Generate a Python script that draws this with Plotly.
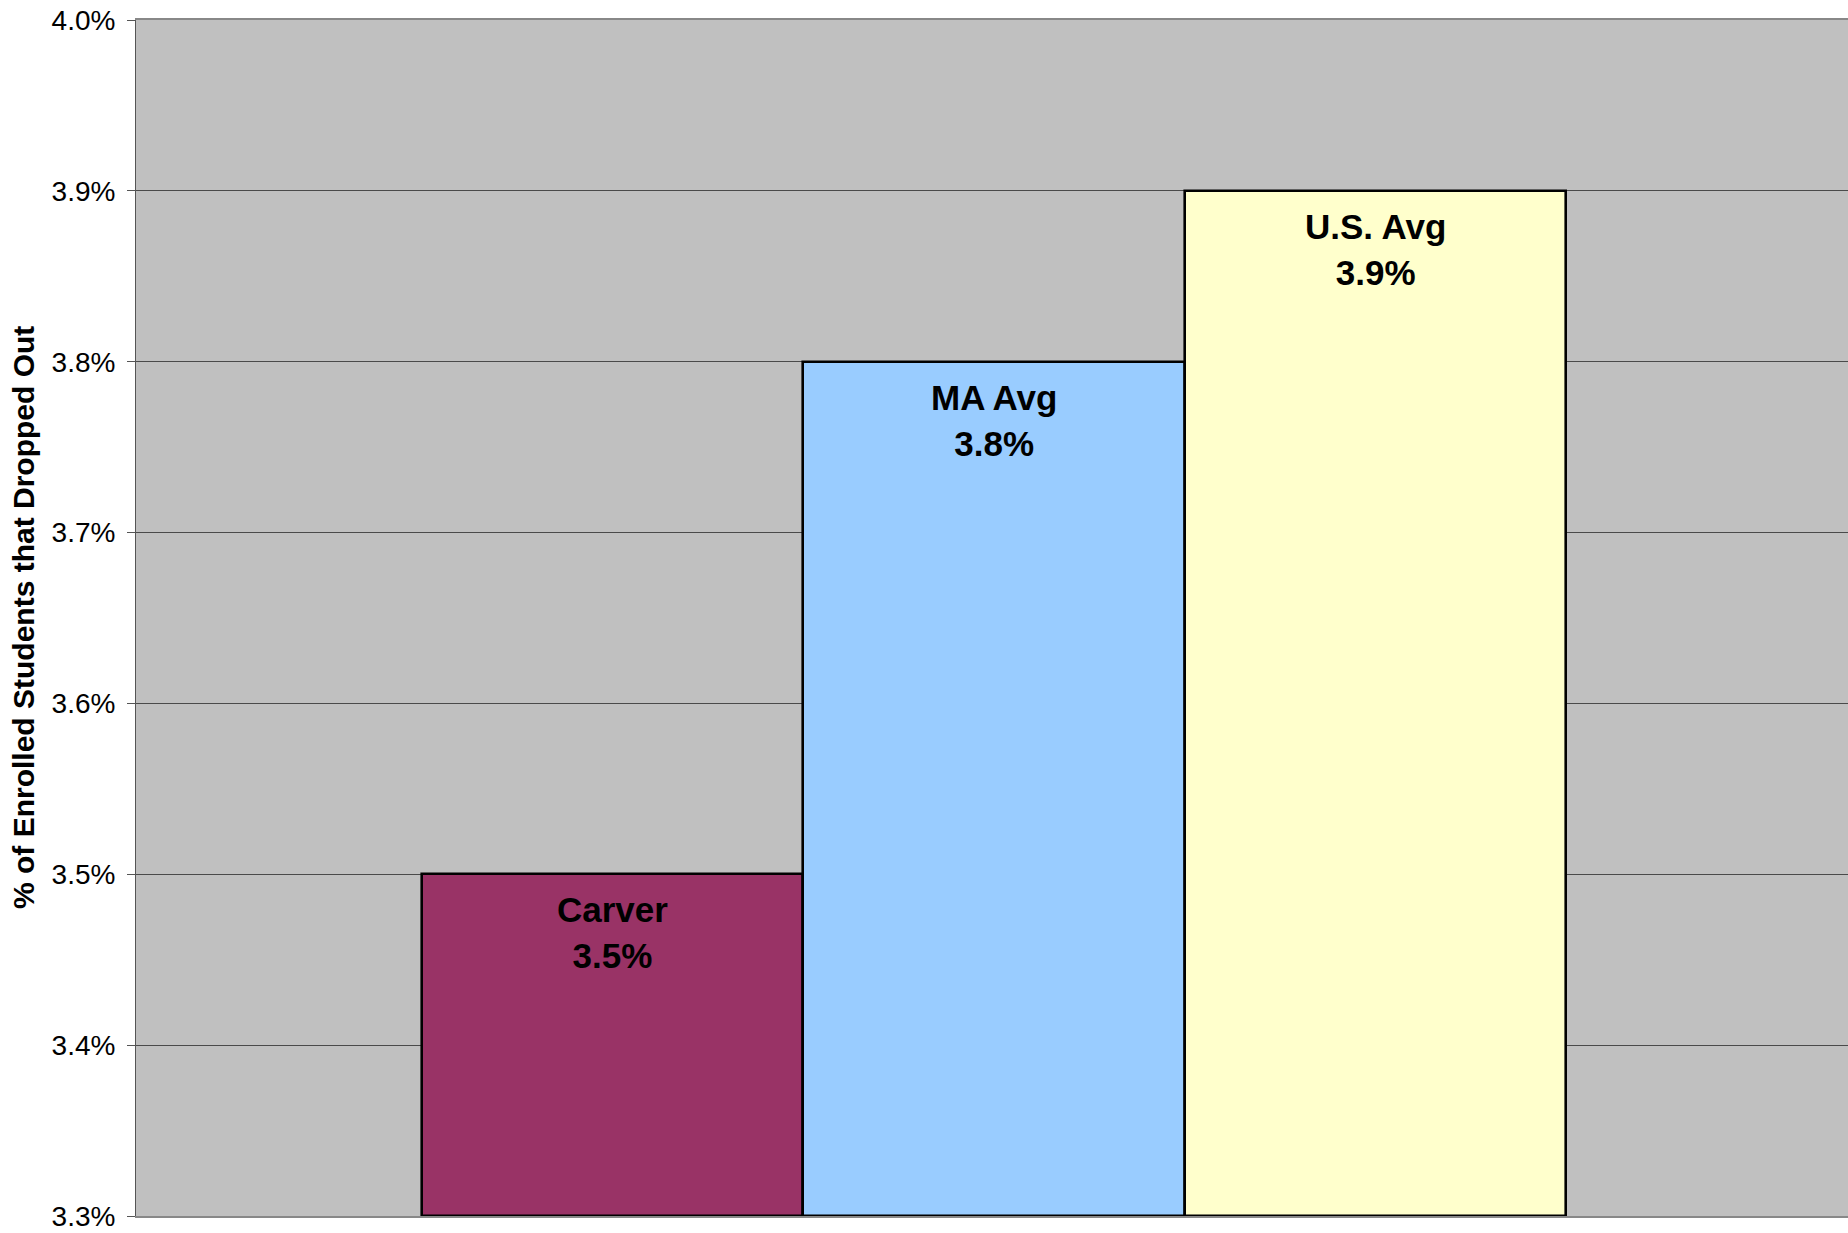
import plotly.graph_objects as go

categories = ["Carver", "MA Avg", "U.S. Avg"]
values = [3.5, 3.8, 3.9]
colors = ["#993366", "#99CCFF", "#FFFFCC"]
y_ticks = [3.3, 3.4, 3.5, 3.6, 3.7, 3.8, 3.9, 4.0]
y_min, y_max = 3.3, 4.0
y_title = "% of Enrolled Students that Dropped Out"

FONT = "Liberation Sans, Arial, sans-serif"

fig = go.Figure()
fig.add_trace(go.Bar(
    x=categories, y=[v - y_min for v in values],
    base=y_min,
    marker=dict(color=colors, line=dict(color="#000000", width=2.6)),
    width=1.0,
    hoverinfo="skip",
))

for c, v in zip(categories, values):
    fig.add_annotation(
        x=c, y=v, xref="x", yref="y",
        text=f"<b>{c}</b><br><b>{v:.1f}%</b>",
        showarrow=False, yanchor="top", yshift=-14,
        font=dict(family=FONT, size=35, color="#000000"),
        align="center",
    )

fig.add_annotation(
    x=0, y=0.5, xref="paper", yref="paper",
    xanchor="center", yanchor="middle", xshift=-113,
    text=f"<b>{y_title}</b>", textangle=-90, showarrow=False,
    font=dict(family=FONT, size=30, color="#000000"),
)

fig.update_layout(
    width=1848, height=1233,
    margin=dict(l=136, r=0, t=20, b=17, autoexpand=False),
    paper_bgcolor="#FFFFFF",
    plot_bgcolor="#C0C0C0",
    bargap=0,
    showlegend=False,
    font=dict(family=FONT, color="#000000"),
)
fig.update_xaxes(
    type="category",
    range=[-1.25, 3.24],
    showticklabels=False,
    showgrid=False,
    showline=True, linecolor="#888888", linewidth=2, mirror=True,
    ticks="",
    zeroline=False,
    automargin=False,
)
fig.update_yaxes(
    range=[y_min, y_max],
    tickvals=y_ticks,
    ticktext=[f"{t:.1f}%" for t in y_ticks],
    tickfont=dict(size=28, color="#000000"),
    ticks="outside", ticklen=8, tickcolor="#555555", tickwidth=1,
    ticklabelstandoff=6,
    showgrid=True, gridcolor="#4a4a4a", gridwidth=1,
    showline=True, linecolor="#555555", linewidth=1,
    zeroline=False,
    automargin=False,
)

fig.write_html(
    "out.html",
    config={"displayModeBar": False},
    post_script="document.body.style.margin='0';document.body.style.overflow='hidden';",
)
